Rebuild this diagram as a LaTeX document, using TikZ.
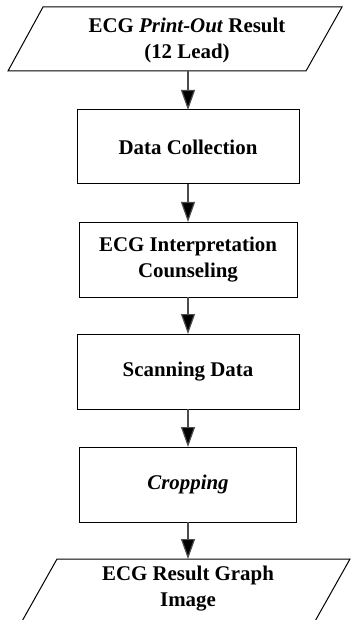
\documentclass[tikz,border=0pt]{standalone}
\usepackage{fontspec}
\setmainfont{Liberation Serif}
\usetikzlibrary{arrows.meta}
\begin{document}
\begin{tikzpicture}[x=1pt,y=-1pt,
  txt/.style={font=\fontsize{20.9}{26}\selectfont\bfseries, align=center, inner sep=0pt},
  outline/.style={draw=black, line width=1pt},
  flow/.style={draw=black!70, line width=1.2pt, -{Triangle[length=20pt,width=14pt,fill=black]}}]
\useasboundingbox (0,0) rectangle (361,620);
\clip (0,0) rectangle (361,620);
% top parallelogram
\draw[outline] (43,7) -- (342,7) -- (306,71) -- (8,71) -- cycle;
\node[txt] (in) at (187,40) {ECG \textit{Print-Out} Result\\(12 Lead)};
\coordinate (inB) at (188,71);
% boxes
\draw[outline] (77,110) rectangle (299,184);
\node[txt] (dc) at (188,147) {Data Collection};
\draw[outline] (79,222) rectangle (297,297);
\node[txt] (ei) at (188,259.5) {ECG Interpretation\\Counseling};
\draw[outline] (77,334) rectangle (299,409);
\node[txt] (sd) at (188,371.5) {Scanning Data};
\draw[outline] (79,447) rectangle (296,522);
\node[txt] (cr) at (188,484.5) {\textit{Cropping}};
% bottom parallelogram
\draw[outline] (57,559) -- (350,559) -- (314,623) -- (21,623) -- cycle;
\node[txt] (out) at (188,589) {ECG Result Graph\\Image};
% anchor coordinates
\coordinate (dcT) at (188,110); \coordinate (dcB) at (188,184);
\coordinate (eiT) at (188,222); \coordinate (eiB) at (188,297);
\coordinate (sdT) at (188,334); \coordinate (sdB) at (188,409);
\coordinate (crT) at (188,447); \coordinate (crB) at (188,522);
\coordinate (outT) at (188,559);
\draw[flow] (inB) -- (dcT);
\draw[flow] (dcB) -- (eiT);
\draw[flow] (eiB) -- (sdT);
\draw[flow] (sdB) -- (crT);
\draw[flow] (crB) -- (outT);
\end{tikzpicture}
\end{document}
